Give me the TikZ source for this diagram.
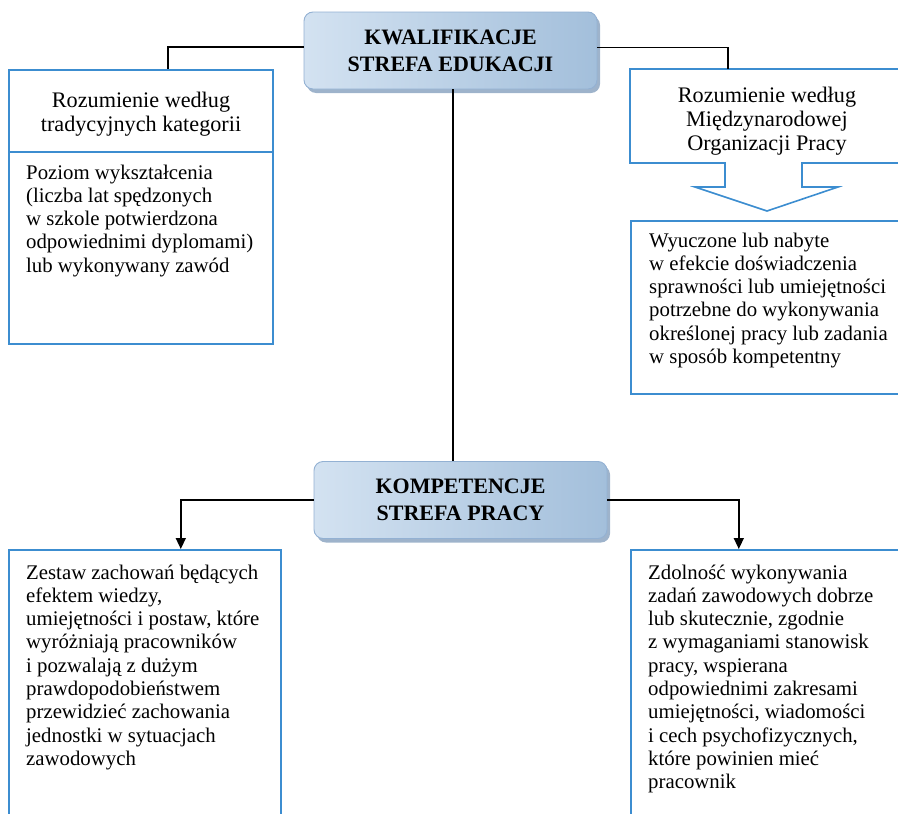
\documentclass[tikz,border=0pt]{standalone}
\usepackage{fontspec}
\setmainfont{Liberation Serif}
\usetikzlibrary{arrows.meta,shadows,calc}
\definecolor{boxblue}{HTML}{3C8DD0}
\definecolor{hubedge}{HTML}{93B1D3}
\definecolor{hubA}{HTML}{D3E2F1}
\definecolor{hubM}{HTML}{D8E5F2}
\definecolor{hubB}{HTML}{A3BFDB}
\definecolor{hubshadow}{HTML}{8DA6C2}
\newcommand\txtl[1]{\begin{tabular}[t]{@{}l@{}}#1\end{tabular}}
\newcommand\txtc[1]{\begin{tabular}[t]{@{}c@{}}#1\end{tabular}}
\begin{document}
\begin{tikzpicture}[x=1pt,y=-1pt,
  frame/.style={draw=boxblue, line width=1.6pt, inner sep=0pt, anchor=north west},
  framel/.style={draw=boxblue, line width=1.6pt},
  hub/.style={rounded corners=9pt, draw=hubedge, line width=0.9pt,
    left color=hubA, middle color=hubM, right color=hubB,
    drop shadow={shadow xshift=3pt, shadow yshift=-4pt, fill=hubshadow, opacity=0.85},
    minimum width=293pt, minimum height=77pt, align=center, inner sep=0pt,
    font=\fontsize{22}{27}\selectfont\bfseries},
  conn/.style={line width=1.5pt, black},
  arr/.style={conn, -{Triangle[length=11pt,width=10pt]}},
  body/.style={font=\fontsize{20.8}{23.3}\selectfont, inner sep=0pt},
  head/.style={font=\fontsize{22.2}{24}\selectfont, inner sep=0pt, anchor=base}
]
\clip (0,0) rectangle (898,814);
\useasboundingbox (0,0) rectangle (898,814);

% boxes
\node[frame, minimum width=264pt, minimum height=274pt] (ltop) at (8,69) {};
\draw[framel] ($(ltop.north west)+(0,83)$) -- ($(ltop.north east)+(0,83)$);
\node[frame, minimum width=280pt, minimum height=173pt] (rlow) at (630,220) {};
\node[frame, minimum width=272pt, minimum height=290pt] (bl) at (8,549) {};
\node[frame, minimum width=280pt, minimum height=290pt] (br) at (630,549) {};

% callout with arrow
\coordinate (ilo) at (728,69);
\draw[framel, line join=miter] (630,69) -- (910,69) -- (910,163) -- (802,163) -- (802,187) -- (838,187)
  -- (767,211) -- (695,187) -- (725,187) -- (725,163) -- (630,163) -- cycle;

% hubs
\node[hub] (kw) at (450.5,50.5) {KWALIFIKACJE\\STREFA EDUKACJI};
\node[hub] (komp) at (460.5,500) {KOMPETENCJE\\STREFA PRACY};

% connectors
\draw[conn] ([yshift=3.5pt]kw.west) -| ([xshift=27pt]ltop.north);
\draw[conn] ([yshift=3pt]kw.east) -| (ilo);
\draw[conn] ([xshift=2.5pt]kw.south) -- ([xshift=2.5pt]kw.south |- komp.north);
\draw[arr] (komp.west) -| ([xshift=36pt]bl.north);
\draw[arr] (komp.east) -| ([xshift=-32pt]br.north);

% texts
\node[head] (lh) at (141,107) {\txtc{Rozumienie według\\tradycyjnych kategorii}};
\node[body, anchor=base west] (lt) at (26,179) {\txtl{Poziom wykształcenia\\(liczba lat spędzonych\\w szkole potwierdzona\\odpowiednimi dyplomami)\\lub wykonywany zawód}};
\node[head] (rh) at (767,102) {\txtc{Rozumienie według\\Międzynarodowej\\Organizacji Pracy}};
\node[body, anchor=base west] (rt) at (649,247) {\txtl{Wyuczone lub nabyte\\w efekcie doświadczenia\\sprawności lub umiejętności\\potrzebne do wykonywania\\określonej pracy lub zadania\\w sposób kompetentny}};
\node[body, anchor=base west] (blt) at (26,579) {\txtl{Zestaw zachowań będących\\efektem wiedzy,\\umiejętności i postaw, które\\wyróżniają pracowników\\i pozwalają z dużym\\prawdopodobieństwem\\przewidzieć zachowania\\jednostki w sytuacjach\\zawodowych}};
\node[body, anchor=base west] (brt) at (648,579) {\txtl{Zdolność wykonywania\\zadań zawodowych dobrze\\lub skutecznie, zgodnie\\z wymaganiami stanowisk\\pracy, wspierana\\odpowiednimi zakresami\\umiejętności, wiadomości\\i cech psychofizycznych,\\które powinien mieć\\pracownik}};
\end{tikzpicture}
\end{document}
